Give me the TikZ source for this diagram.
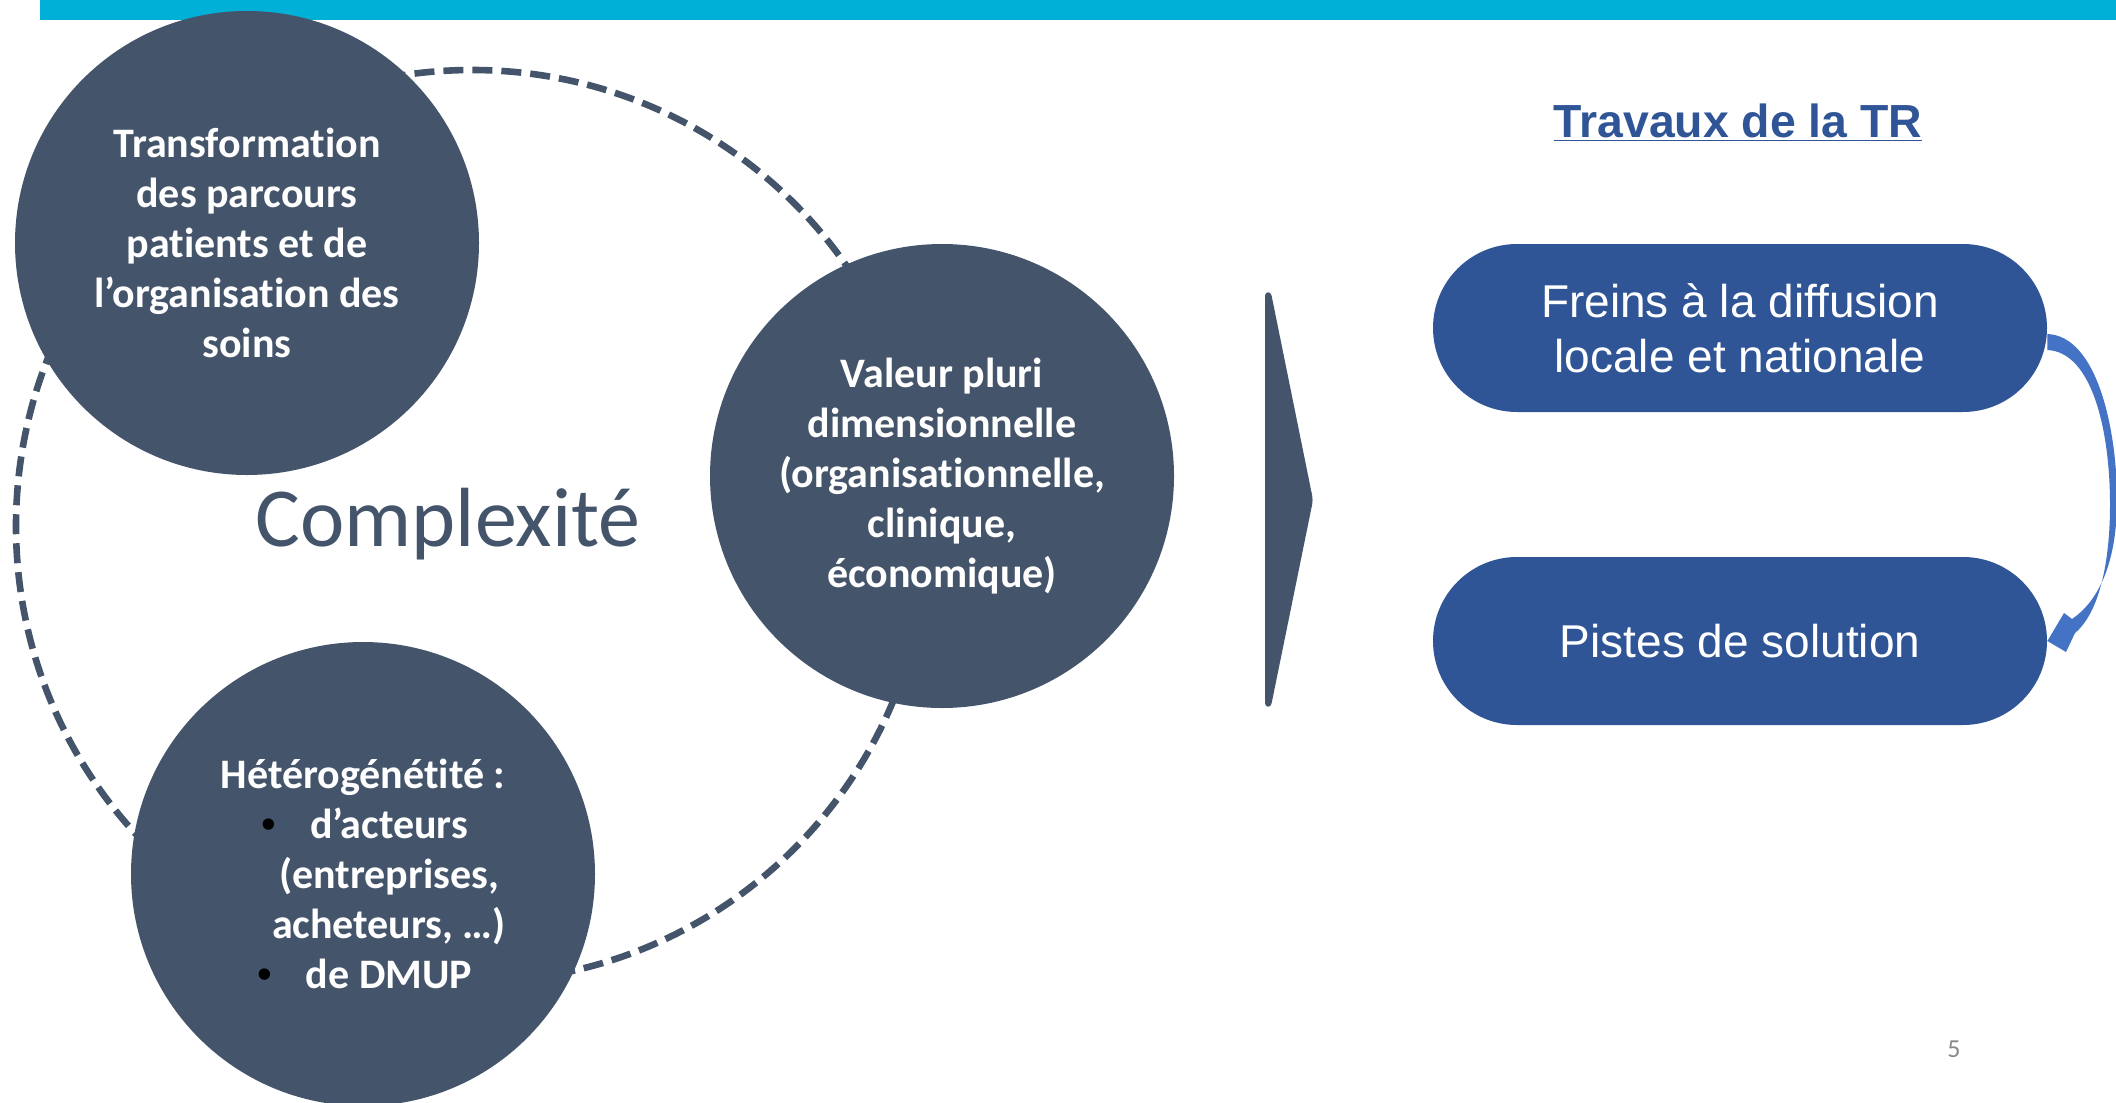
\documentclass[tikz,border=0pt]{standalone}
\usepackage{fontspec}
\setmainfont{Carlito}[Ligatures=NoCommon]
\newfontfamily\arialfont{Liberation Sans}
\usetikzlibrary{calc}
\definecolor{slate}{HTML}{44546A}
\definecolor{trblue}{HTML}{2F5597}
\definecolor{arrowblue}{HTML}{4472C4}
\definecolor{barcyan}{HTML}{00B0D6}
\definecolor{pagegrey}{HTML}{898989}
\newcommand{\puce}{\textcolor{black}{\arialfont\mdseries\fontsize{21}{21}\selectfont\textbullet}}

\begin{document}
\begin{tikzpicture}[x=0.5pt,y=-0.5pt,
  bubble/.style={circle, fill=slate, minimum size=232pt, inner sep=0pt, text=white, align=center, font=\bfseries\fontsize{21}{25}\selectfont},
  pill/.style={rectangle, rounded corners=42pt, fill=trblue, minimum width=307pt, minimum height=84pt, text=white, align=center, font=\arialfont\fontsize{23}{27.5}\selectfont},
  dashring/.style={slate, line width=3.3pt, dash pattern=on 10pt off 4.5pt}]

\useasboundingbox (0,0) rectangle (2116,1103);
\clip (0,0) rectangle (2116,1103);

\fill[barcyan] (40,0) rectangle (2116,20);

\draw[dashring] (472,526) circle[radius=228pt];

\node[bubble] (parcours) at (247,243) {Transformation\\des parcours\\patients et de\\l’organisation des\\soins};
\node[bubble] (valeur) at (942,476) {Valeur pluri\\dimensionnelle\\(organisationnelle,\\clinique,\\économique)};
\node[bubble] (hetero) at (363,874) {Hétérogénétité :\\
  \hspace*{26pt}\llap{\puce\hspace{17pt}}d’acteurs\\
  \hspace*{26pt}(entreprises,\\
  \hspace*{26pt}acheteurs, …)\\
  \hspace*{26pt}\llap{\puce\hspace{17pt}}de DMUP};

\node[text=slate, font=\fontsize{42}{50}\selectfont] (complexite) at (448,524) {Complexité};

\filldraw[slate, line width=3pt, line join=round, rounded corners=2pt] (1268,293) -- (1310,500) -- (1268,706) -- cycle;

\node[text=trblue, font=\arialfont\bfseries\fontsize{23.2}{28}\selectfont] (titre) at (1738,123) {\underline{Travaux de la TR}};

\node[pill] (freins) at (1740,328) {Freins à la diffusion\\locale et nationale};
\node[pill] (pistes) at (1740,641) {Pistes de solution};

\fill[arrowblue] ($(freins.east)+(0,6)$) .. controls +(50,2) and (2117,430) .. (2117,500)
  .. controls (2117,560) and (2100,600) .. (2072,619) -- (2064,613) -- (pistes.east) -- (2066,652) -- (2075,633)
  .. controls (2100,612) and (2110,560) .. (2110,505)
  .. controls (2110,430) and (2092,352) .. ($(freins.east)+(0,22)$) -- cycle;

\node[text=pagegrey, font=\fontsize{13}{15}\selectfont] (page) at (1954,1049) {5};

\end{tikzpicture}
\end{document}
